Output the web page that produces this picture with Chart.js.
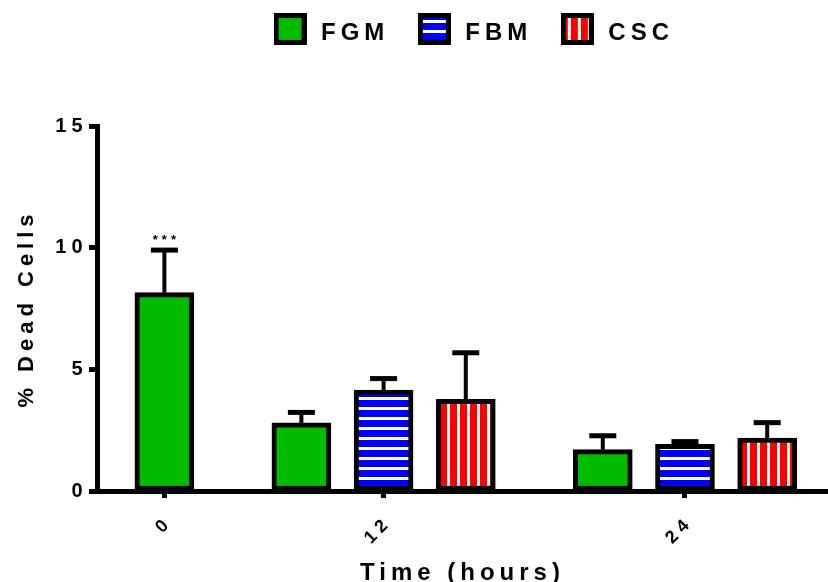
<!DOCTYPE html>
<html><head><meta charset="utf-8">
<script src="https://cdn.jsdelivr.net/npm/chart.js@4/dist/chart.umd.min.js"></script>
<style>html,body{margin:0;padding:0;background:#fff}canvas{display:block}</style>
</head><body>
<canvas id="c" width="828" height="582"></canvas>
<script>
// ---- data ----
const groupLabels = ['0', '12', '24'];
const seriesNames = ['FGM', 'FBM', 'CSC'];
const fgmMean = [8.15, 2.8, 1.7];
const fgmErr  = [1.75, 0.43, 0.57];
const fbmMean = [null, 4.15, 1.92];
const fbmErr  = [null, 0.47, 0.11];
const cscMean = [null, 3.77, 2.17];
const cscErr  = [null, 1.91, 0.64];
const fgmSig  = ['***', '', ''];
const yTickValues = [0, 5, 10, 15];

// ---- layout (slot positions on a linear axis) ----
const means = [fgmMean, fbmMean, cscMean];
const errs = [fgmErr, fbmErr, cscErr];
const sigs = [fgmSig, [], []];
const GROUP_GAP = 2 / 3;
const slotX = means.map(() => []);
const groupCenters = [];
let cursor = 0;
groupLabels.forEach((g, gi) => {
  const xs = [];
  means.forEach((m, si) => {
    if (m[gi] == null) { slotX[si][gi] = null; return; }
    slotX[si][gi] = cursor; xs.push(cursor); cursor += 1;
  });
  groupCenters.push((xs[0] + xs[xs.length - 1]) / 2);
  cursor += GROUP_GAP;
});
const firstSlot = 0;
const lastSlot = cursor - 1 - GROUP_GAP;

const canvas = document.getElementById('c');
const ctx = canvas.getContext('2d');
function stripes(base, horizontal) {
  const c = document.createElement('canvas'); c.width = 10; c.height = 10;
  const g = c.getContext('2d');
  g.fillStyle = base; g.fillRect(0, 0, 10, 10);
  g.fillStyle = '#ffffff';
  if (horizontal) g.fillRect(0, 7, 10, 3); else g.fillRect(7, 0, 3, 10);
  return ctx.createPattern(c, 'repeat');
}
const fills = ['#00bb00', stripes('#0000ff', true), stripes('#ff0000', false)];

// legend swatch images (box drawn in the upper part so it sits a little above the text centre)
function swatch(fill) {
  const c = document.createElement('canvas'); c.width = 33; c.height = 40;
  const g = c.getContext('2d');
  g.fillStyle = fill; g.fillRect(2.5, 2.5, 28, 27);
  g.strokeStyle = '#000'; g.lineWidth = 5; g.strokeRect(2.5, 2.5, 28, 27);
  return c;
}
const swatches = fills.map(swatch);

const FONT = "'Liberation Sans', Arial, sans-serif";
const SPACING = '5px';

const datasets = seriesNames.map((name, si) => ({
  label: name,
  data: groupLabels.map((g, gi) => means[si][gi] == null ? null :
    { x: slotX[si][gi], y: means[si][gi], err: errs[si][gi], sig: sigs[si][gi] || '' }).filter(d => d),
  backgroundColor: fills[si],
  borderColor: '#000',
  borderWidth: 5,
  borderSkipped: false,
  grouped: false,
  barThickness: 59
}));

const spacingPlugin = {
  id: 'spacing',
  beforeUpdate(chart) { chart.ctx.letterSpacing = SPACING; },
  beforeLayout(chart) { chart.ctx.letterSpacing = SPACING; },
  beforeDraw(chart) { chart.ctx.letterSpacing = SPACING; },
  afterLayout(chart) {
    const l = chart.legend;
    if (l) { l.left += 10; l.right += 10; l.top -= 71; l.bottom -= 71; }
  }
};

const errorPlugin = {
  id: 'errorBars',
  afterDatasetsDraw(chart) {
    const c = chart.ctx, ys = chart.scales.y;
    chart.data.datasets.forEach((ds, di) => {
      const meta = chart.getDatasetMeta(di);
      meta.data.forEach((bar, i) => {
        const d = ds.data[i];
        const top = ys.getPixelForValue(d.y + d.err);
        c.save();
        c.strokeStyle = '#000';
        c.lineWidth = 4;
        c.beginPath(); c.moveTo(bar.x, bar.y); c.lineTo(bar.x, top); c.stroke();
        c.lineWidth = 5;
        c.beginPath(); c.moveTo(bar.x - 13.5, top); c.lineTo(bar.x + 13.5, top); c.stroke();
        if (d.sig) {
          c.letterSpacing = '4px';
          c.fillStyle = '#000';
          c.font = 'bold 13px ' + FONT;
          c.textAlign = 'center';
          c.textBaseline = 'alphabetic';
          c.fillText(d.sig, bar.x + 2, top - 6);
        }
        c.restore();
      });
    });
  }
};

new Chart(ctx, {
  type: 'bar',
  data: { datasets },
  options: {
    responsive: false,
    animation: false,
    devicePixelRatio: 1,
    layout: { padding: { top: 66, left: 0, right: 0, bottom: 0 } },
    plugins: {
      legend: {
        display: true,
        position: 'top',
        fullSize: false,
        labels: {
          color: '#000',
          usePointStyle: true,
          pointStyleWidth: 38,
          boxHeight: 24,
          padding: 26,
          font: { family: FONT, size: 24, weight: 'bold' },
          generateLabels(chart) {
            const items = Chart.defaults.plugins.legend.labels.generateLabels(chart);
            items.forEach((it, i) => { it.pointStyle = swatches[i]; });
            return items;
          }
        }
      },
      tooltip: { enabled: false }
    },
    scales: {
      x: {
        type: 'linear',
        bounds: 'data',
        offset: false,
        min: firstSlot - 0.82,
        max: lastSlot + 0.74,
        afterBuildTicks(scale) { scale.ticks = groupCenters.map(v => ({ value: v })); },
        afterFit(scale) { scale.height = 91; },
        grid: { display: true, drawOnChartArea: false, drawTicks: true, offset: false,
                tickLength: 7, tickWidth: 5, tickColor: '#000', color: '#000' },
        border: { display: true, color: '#000', width: 5 },
        ticks: {
          autoSkip: false,
          maxRotation: 45, minRotation: 45,
          padding: 14, labelOffset: 5,
          color: '#000',
          font: { family: FONT, size: 18, weight: 'bold' },
          callback: (v, i) => groupLabels[i]
        },
        title: {
          display: true, text: 'Time (hours)', color: '#000',
          font: { family: FONT, size: 24, weight: 'bold', lineHeight: 1 },
          padding: { top: 0, bottom: -3.5 }
        }
      },
      y: {
        min: 0, max: 15,
        afterBuildTicks(scale) { scale.ticks = yTickValues.map(v => ({ value: v })); },
        afterFit(scale) { scale.width = 97; },
        grid: { display: true, drawOnChartArea: false, drawTicks: true,
                tickLength: 8, tickWidth: 5, tickColor: '#000', color: '#000' },
        border: { display: true, color: '#000', width: 5 },
        ticks: {
          padding: 1.5, color: '#000',
          font: { family: FONT, size: 20, weight: 'bold' }
        },
        title: {
          display: true, text: '% Dead Cells', color: '#000',
          font: { family: FONT, size: 22, weight: 'bold', lineHeight: 1 },
          padding: { top: 16, bottom: 0 }
        }
      }
    }
  },
  plugins: [spacingPlugin, errorPlugin]
});
</script>
</body></html>
